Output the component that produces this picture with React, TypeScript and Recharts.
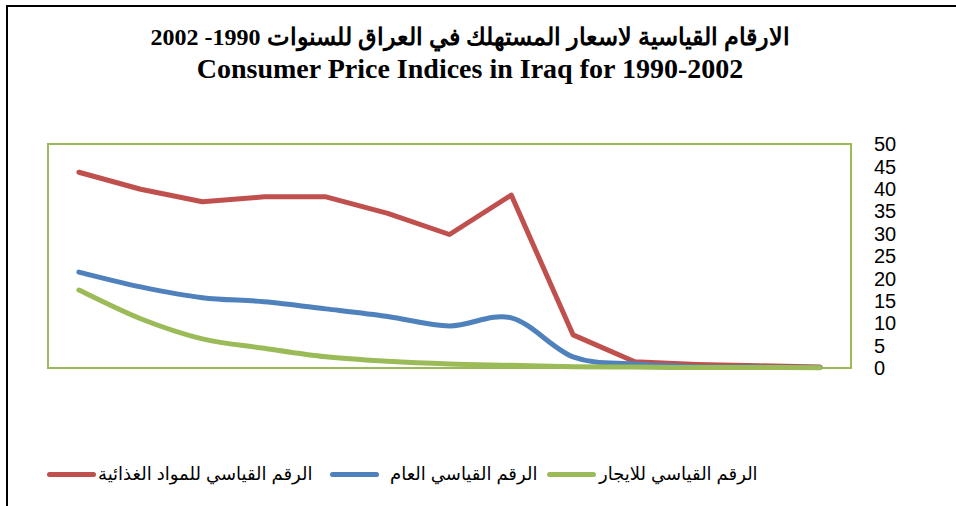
import React from 'react';
import { LineChart, Line, XAxis, YAxis, ReferenceArea } from 'recharts';

const years = [1990, 1991, 1992, 1993, 1994, 1995, 1996, 1997, 1998, 1999, 2000, 2001, 2002];
const foodIndex = [43.7, 39.9, 37.1, 38.2, 38.2, 34.5, 29.8, 38.6, 7.4, 1.4, 0.8, 0.5, 0.2];
const generalIndex = [21.4, 18.1, 15.7, 14.8, 13.2, 11.5, 9.4, 11.2, 2.5, 0.9, 0.3, 0.2, 0.1];
const rentIndex = [17.4, 11.0, 6.5, 4.4, 2.5, 1.5, 0.9, 0.6, 0.3, 0.2, 0.1, 0.1, 0.05];
const yTicks = [0, 5, 10, 15, 20, 25, 30, 35, 40, 45, 50];

const titleAr = 'الارقام القياسية لاسعار المستهلك في العراق للسنوات 1990- 2002';
const titleEn = 'Consumer Price Indices in Iraq for 1990-2002';
const nameFood = 'الرقم القياسي للمواد الغذائية';
const nameGeneral = 'الرقم القياسي العام';
const nameRent = 'الرقم القياسي للايجار';

const data = years.map((y, i) => ({
  year: y,
  food: foodIndex[i],
  general: generalIndex[i],
  rent: rentIndex[i],
}));

// Excel-like smoothed curve (Catmull-Rom through points)
function smoothCurve(context: any) {
  let pts: number[][] = [];
  return {
    areaStart() {},
    areaEnd() {},
    lineStart() {
      pts = [];
    },
    point(x: number, y: number) {
      pts.push([+x, +y]);
    },
    lineEnd() {
      const n = pts.length;
      if (!n) return;
      context.moveTo(pts[0][0], pts[0][1]);
      for (let i = 0; i < n - 1; i++) {
        const p0 = pts[i - 1] || pts[i];
        const p1 = pts[i];
        const p2 = pts[i + 1];
        const p3 = pts[i + 2] || p2;
        context.bezierCurveTo(
          p1[0] + (p2[0] - p0[0]) / 6,
          p1[1] + (p2[1] - p0[1]) / 6,
          p2[0] - (p3[0] - p1[0]) / 6,
          p2[1] - (p3[1] - p1[1]) / 6,
          p2[0],
          p2[1]
        );
      }
    },
  };
}

const COLORS = { food: '#C0504D', general: '#4F81BD', rent: '#9BBB59' };

const legendItems = [
  { name: nameFood, color: COLORS.food, left: 47, gap: 2 },
  { name: nameGeneral, color: COLORS.general, left: 330, gap: 11 },
  { name: nameRent, color: COLORS.rent, left: 547, gap: 3 },
];

const ChartLegend = () => (
  <div
    style={{
      position: 'absolute',
      left: 0,
      top: 462,
      width: 956,
      height: 24,
      fontFamily: '"Liberation Sans", Arial, "DejaVu Sans", sans-serif',
      fontSize: 18,
      color: '#000',
    }}
  >
    {legendItems.map((it) => (
      <div
        key={it.name}
        style={{
          position: 'absolute',
          left: it.left,
          top: 0,
          height: 24,
          display: 'flex',
          alignItems: 'center',
        }}
      >
        <div
          style={{
            width: 49,
            height: 5,
            borderRadius: 3,
            background: it.color,
            marginRight: it.gap,
          }}
        />
        <span dir="rtl" style={{ whiteSpace: 'nowrap', lineHeight: '24px' }}>
          {it.name}
        </span>
      </div>
    ))}
  </div>
);

export default function App() {
  return (
    <div
      style={{
        position: 'absolute',
        left: 0,
        top: 0,
        width: 956,
        height: 506,
        overflow: 'hidden',
        background: '#fff',
      }}
    >
      <div
        style={{
          position: 'absolute',
          left: 6,
          top: 5,
          width: 1200,
          height: 800,
          border: '2px solid #000',
        }}
      />
      <div
        style={{
          position: 'absolute',
          left: 0,
          top: 21,
          width: 940,
          textAlign: 'center',
          fontFamily: '"Liberation Serif", "Times New Roman", "DejaVu Serif", serif',
          fontWeight: 'bold',
          color: '#000',
        }}
      >
        <div dir="rtl" style={{ fontSize: 24, lineHeight: '32px' }}>{titleAr}</div>
        <div style={{ fontSize: 28, lineHeight: '32px' }}>{titleEn}</div>
      </div>
      <div style={{ position: 'absolute', left: 0, top: 0 }}>
        <LineChart
          width={956}
          height={506}
          data={data}
          margin={{ top: 144, right: 0, bottom: 138, left: 48 }}
        >
          <XAxis dataKey="year" type="number" domain={[1989.5, 2002.5]} hide />
          <YAxis
            orientation="right"
            width={105}
            domain={[0, 50]}
            ticks={yTicks}
            interval={0}
            axisLine={false}
            tickLine={false}
            tickSize={6}
            tickMargin={17}
            tick={{
              fill: '#000',
              fontSize: 20,
              fontFamily: '"Liberation Sans", Arial, sans-serif',
              textAnchor: 'start',
            }}
          />
          <ReferenceArea
            x1={1989.5}
            x2={2002.5}
            y1={0}
            y2={50}
            fill="none"
            fillOpacity={0}
            stroke="#9BBB59"
            strokeWidth={2}
            ifOverflow="visible"
          />
          <Line
            dataKey="food"
            name={nameFood}
            type="linear"
            stroke={COLORS.food}
            strokeWidth={5}
            dot={false}
            strokeLinecap="round"
            strokeLinejoin="round"
            isAnimationActive={false}
          />
          <Line
            dataKey="general"
            name={nameGeneral}
            type={smoothCurve as any}
            stroke={COLORS.general}
            strokeWidth={5}
            dot={false}
            strokeLinecap="round"
            isAnimationActive={false}
          />
          <Line
            dataKey="rent"
            name={nameRent}
            type={smoothCurve as any}
            stroke={COLORS.rent}
            strokeWidth={5}
            dot={false}
            strokeLinecap="round"
            isAnimationActive={false}
          />
        </LineChart>
      </div>
      <ChartLegend />
    </div>
  );
}
